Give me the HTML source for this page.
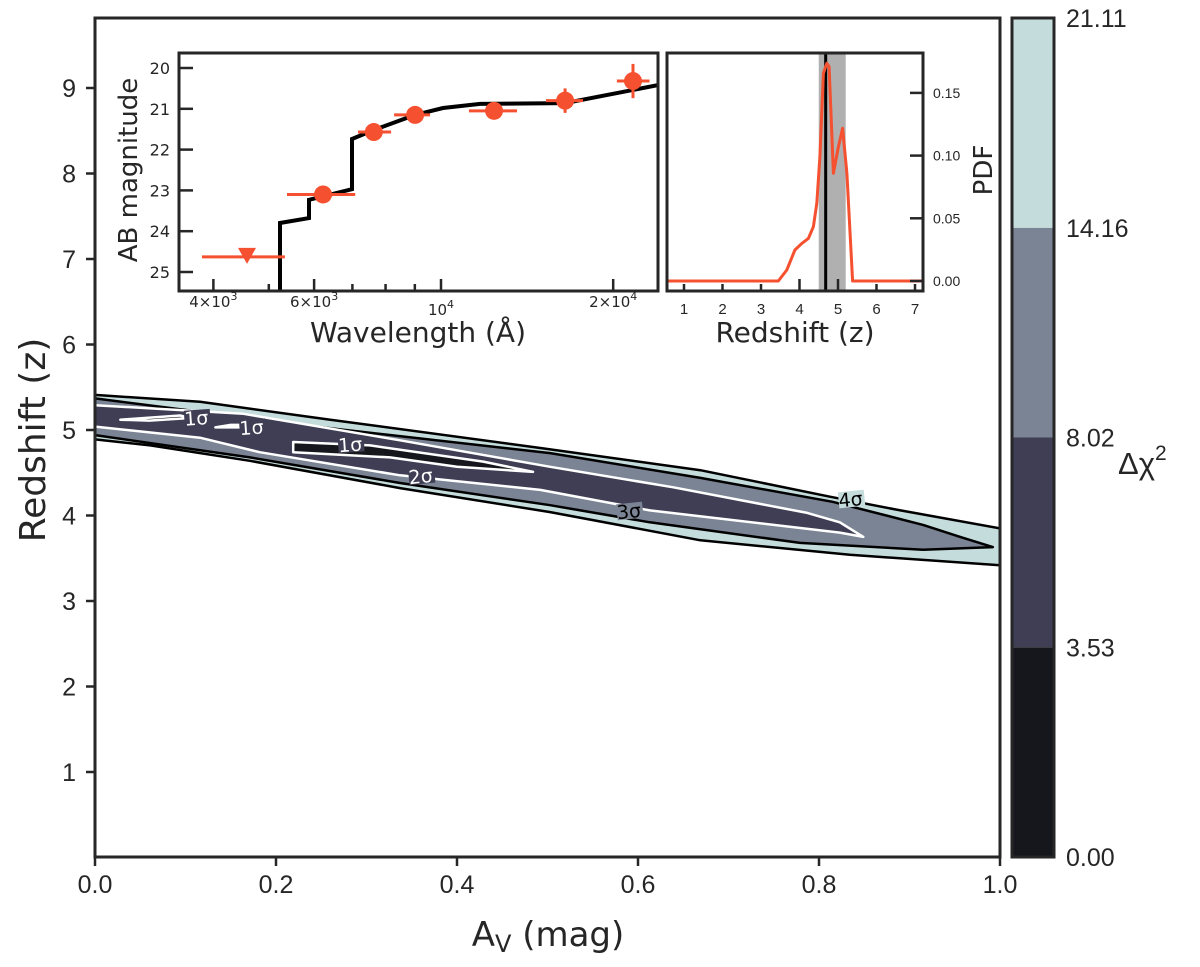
<!DOCTYPE html>
<html><head><meta charset="utf-8"><style>
html,body{margin:0;padding:0;background:#fff;}
svg{display:block;}
.tk{font-family:"Liberation Sans",Arial,sans-serif;fill:#262626;}
.lb{font-family:"DejaVu Sans","Liberation Sans",sans-serif;fill:#262626;}
</style></head><body>
<svg id="fig" width="1200" height="967" viewBox="0 0 1200 967" xmlns="http://www.w3.org/2000/svg">
<defs><clipPath id="mainclip"><rect x="95" y="18" width="905" height="839"/></clipPath>
<clipPath id="pdfclip"><rect x="667" y="53" width="256" height="238"/></clipPath>
<clipPath id="sedclip"><rect x="179" y="53" width="479" height="238"/></clipPath></defs>
<g id="main"></g>
<g id="cbar"></g>
<g id="sed"></g>
<g id="pdf"></g>
</svg>
<script>
// ---- main contour data (A_V, z) ----
const mainXTicks=[0,0.2,0.4,0.6,0.8,1.0];
const mainXTickLabels=["0.0","0.2","0.4","0.6","0.8","1.0"];
const mainYTicks=[1,2,3,4,5,6,7,8,9];
const l1Top=[[0,5.41],[0.116,5.33],[0.26,5.12],[0.492,4.79],[0.669,4.53],[0.812,4.22],[0.89,4.06],[1.01,3.83]];
const l1Bot=[[0,4.89],[0.061,4.82],[0.171,4.64],[0.337,4.32],[0.503,4.04],[0.669,3.71],[0.834,3.54],[1.01,3.41]];
const l2Top=[[0,5.37],[0.26,5.02],[0.503,4.73],[0.669,4.44],[0.815,4.16],[0.915,3.89],[0.956,3.75],[0.992,3.63]];
const l2Bot=[[0,4.94],[0.171,4.68],[0.337,4.38],[0.503,4.12],[0.613,3.92],[0.779,3.68],[0.915,3.6],[0.992,3.63]];
const l3Top=[[0,5.29],[0.164,5.19],[0.337,4.88],[0.503,4.57],[0.639,4.33],[0.787,4.03],[0.823,3.92],[0.849,3.75]];
const l3Bot=[[0,5.04],[0.116,4.91],[0.182,4.74],[0.337,4.47],[0.492,4.3],[0.613,4.06],[0.823,3.8],[0.849,3.75]];
const l4Core=[[0.219,4.86],[0.304,4.82],[0.429,4.63],[0.484,4.51],[0.4,4.57],[0.326,4.68],[0.219,4.74]];
const l4Blob1=[[0.028,5.12],[0.094,5.17],[0.105,5.14],[0.06,5.11]];
const l4Blob2=[[0.133,5.03],[0.15,5.06],[0.175,5.06],[0.175,5.03]];
const sigmaLabels=[["1σ",0.112,5.13,"#fff",-4,1],["1σ",0.173,5.02,"#fff",-4,1],["1σ",0.282,4.82,"#fff",-4,1],["2σ",0.36,4.45,"#fff",-6,1],["3σ",0.59,4.04,"#000",-6,2],["4σ",0.835,4.18,"#000",-6,3]];
// colorbar
const cbLevels=[0,3.53,8.02,14.16,21.11];
const cbColors=["#16161d","#3f3e55","#7b8494","#c5dcdc"];
// SED inset
const sedYTicks=[20,21,22,23,24,25];
const sedPoints=[[6220,5380,7080,23.1,0.05],[7630,7160,8180,21.57,0.05],[9010,8280,9570,21.15,0.05],[12380,11190,13580,21.05,0.05],[16480,15260,17710,20.8,0.3],[21660,20300,23150,20.32,0.42]];
const sedLimit=[4580,3820,5335,24.63];
const modelLam=[5230,5230,5877,5877,6990,6990,7630,9010,10080,11700,16480,23950];
const modelMag=[26,23.8,23.68,23.23,22.97,21.74,21.52,21.15,20.98,20.88,20.86,20.42];
// PDF inset
const pdfZ=[0.5,3.45,3.67,3.88,4.06,4.23,4.36,4.45,4.53,4.62,4.71,4.77,4.88,5.01,5.12,5.23,5.38,7.3];
const pdfV=[0,0,0.0088,0.0247,0.030,0.034,0.0433,0.062,0.099,0.1656,0.1736,0.171,0.0859,0.107,0.1218,0.0859,0,0];
const pdfBand=[4.5,5.2];
const pdfBest=4.68;
const pdfYTicks=[0,0.05,0.10,0.15];
const pdfYLabels=["0.00","0.05","0.10","0.15"];
const pdfXTicks=[1,2,3,4,5,6,7];

const NS="http://www.w3.org/2000/svg";
function mk(parent,tag,attrs,txt){const e=document.createElementNS(NS,tag);for(const k in attrs)e.setAttribute(k,attrs[k]);if(txt!==undefined)e.textContent=txt;parent.appendChild(e);return e;}
// main axes
const mx=a=>95+a*905, my=z=>857.5-z*85.5;
const M=document.getElementById('main');
const cg=mk(M,'g',{'clip-path':'url(#mainclip)'});
function poly(pts,fill,stroke,sw,name){const d=pts.map((p,i)=>(i?'L':'M')+mx(p[0]).toFixed(1)+','+my(p[1]).toFixed(1)).join('')+'Z';
 const e=mk(cg,'path',{d:d,fill:fill,stroke:stroke,'stroke-width':sw,'stroke-linejoin':'round'});
 
 return e;}
const band=(t,b)=>t.concat(b.slice().reverse());
poly(band(l1Top,l1Bot),cbColors[3],'#000',2.5,'contour-level-4');
poly(band(l2Top,l2Bot),cbColors[2],'#000',2.5,'contour-level-3');
poly(band(l3Top,l3Bot),cbColors[1],'#fff',2.5,'contour-level-2');
poly(l4Core,cbColors[0],'#fff',2.5,'contour-level-1');
poly(l4Blob1,cbColors[0],'#fff',2.5,'contour-level-1-blob');
poly(l4Blob2,cbColors[0],'#fff',2.5,'contour-level-1-blob');
sigmaLabels.forEach(s=>{const x=mx(s[1]),y=my(s[2]);
 mk(cg,'rect',{x:x-12,y:y-9,width:26,height:16,fill:cbColors[s[5]],transform:`rotate(${s[4]} ${x} ${y})`});
 const t=mk(cg,'text',{x:x,y:y+6,'font-size':19,fill:s[3],'text-anchor':'middle','font-family':'"DejaVu Sans",sans-serif',transform:`rotate(${s[4]} ${x} ${y})`},s[0]);
 
 });
mk(M,'rect',{x:95,y:18,width:905,height:839,fill:'none',stroke:'#262626','stroke-width':3});
mainXTicks.forEach((v,i)=>{mk(M,'line',{x1:mx(v),x2:mx(v),y1:857,y2:866,stroke:'#262626','stroke-width':2.5});
 const t=mk(M,'text',{x:mx(v),y:893,'font-size':25,'text-anchor':'middle',class:'tk'},mainXTickLabels[i]);
 
 });
mainYTicks.forEach(v=>{mk(M,'line',{x1:86,x2:95,y1:my(v),y2:my(v),stroke:'#262626','stroke-width':2.5});
 const t=mk(M,'text',{x:76,y:my(v)+9,'font-size':25,'text-anchor':'end',class:'tk'},String(v));
 
 });
let t=mk(M,'text',{x:548,y:946,'font-size':34,'text-anchor':'middle',class:'lb'});
t.innerHTML='A<tspan font-size="24" dy="6">V</tspan><tspan dy="-6"> (mag)</tspan>';


t=mk(M,'text',{x:45,y:440,'font-size':36,'text-anchor':'middle',class:'lb',transform:'rotate(-90 45 440)'},'Redshift (z)');


// colorbar (uniform spacing per level index)
const C=document.getElementById('cbar');
const cy=i=>857-i*(839/(cbLevels.length-1));
for(let i=0;i<4;i++){const r=mk(C,'rect',{x:1012,y:cy(i+1),width:42,height:cy(i)-cy(i+1),fill:cbColors[i]});
 
 }
mk(C,'rect',{x:1012,y:18,width:42,height:839,fill:'none',stroke:'#262626','stroke-width':3});
cbLevels.forEach((v,i)=>{const tt=mk(C,'text',{x:1066,y:cy(i)+9,'font-size':25,class:'tk'},v.toFixed(2));
 
 });
t=mk(C,'text',{x:1118,y:474,'font-size':31,class:'tk'});
t.innerHTML='Δχ<tspan font-size="21" dy="-14">2</tspan>';


// SED inset
const S=document.getElementById('sed');
const sx=l=>441+572*Math.log10(l/1e4), sy=m=>68+(m-20)*40.8;
mk(S,'rect',{x:179,y:53,width:479,height:238,fill:'#fff'});
const sc=mk(S,'g',{'clip-path':'url(#sedclip)'});
let d=modelLam.map((l,i)=>(i?'L':'M')+sx(l).toFixed(1)+','+sy(modelMag[i]).toFixed(1)).join('');
t=mk(sc,'path',{d:d,fill:'none',stroke:'#000','stroke-width':4});


const OR='#f5502f';
sedPoints.forEach(p=>{const g=mk(sc,'g',{});
 
 
 mk(g,'line',{x1:sx(p[1]),x2:sx(p[2]),y1:sy(p[3]),y2:sy(p[3]),stroke:OR,'stroke-width':3});
 mk(g,'line',{x1:sx(p[0]),x2:sx(p[0]),y1:sy(p[3]-p[4]),y2:sy(p[3]+p[4]),stroke:OR,'stroke-width':3});
 mk(g,'circle',{cx:sx(p[0]),cy:sy(p[3]),r:9,fill:OR});});
{const g=mk(sc,'g',{});
 
 
 const x=sx(sedLimit[0]),y=sy(sedLimit[3]);
 mk(g,'line',{x1:sx(sedLimit[1]),x2:sx(sedLimit[2]),y1:y,y2:y,stroke:OR,'stroke-width':3});
 mk(g,'path',{d:`M${x-9},${y-9}L${x+9},${y-9}L${x},${y+7}Z`,fill:OR});}
mk(S,'rect',{x:179,y:53,width:479,height:238,fill:'none',stroke:'#262626','stroke-width':3});
sedYTicks.forEach(v=>{mk(S,'line',{x1:179,x2:193,y1:sy(v),y2:sy(v),stroke:'#262626','stroke-width':2.5});
 const tt=mk(S,'text',{x:170,y:sy(v)+6,'font-size':16,'text-anchor':'end',class:'lb'},String(v));
 
 });
[4000,5000,6000,7000,8000,9000,10000,20000].forEach(l=>{const big=(l==4000||l==6000||l==10000||l==20000);
 mk(S,'line',{x1:sx(l),x2:sx(l),y1:291,y2:big?279:284,stroke:'#262626','stroke-width':2.5});});
[[4000,'4×10','3'],[6000,'6×10','3'],[10000,'10','4'],[20000,'2×10','4']].forEach((a,i)=>{
 const tt=mk(S,'text',{x:sx(a[0]),y:i==2?315:307,'font-size':15,'text-anchor':'middle',class:'lb'});
 tt.innerHTML=a[1]+'<tspan font-size="11" dy="-7">'+a[2]+'</tspan>';
 
 });
t=mk(S,'text',{x:418,y:342,'font-size':28,'text-anchor':'middle',class:'lb'},'Wavelength (Å)');


t=mk(S,'text',{x:137,y:170,'font-size':26,'text-anchor':'middle',class:'lb',transform:'rotate(-90 137 170)'},'AB magnitude');


// PDF inset
const P=document.getElementById('pdf');
const px=z=>684+(z-1)*38.5, py=v=>281-v/0.05*62.7;
mk(P,'rect',{x:667,y:53,width:256,height:238,fill:'#fff'});
const pc=mk(P,'g',{'clip-path':'url(#pdfclip)'});
t=mk(pc,'rect',{x:px(pdfBand[0]),y:53,width:px(pdfBand[1])-px(pdfBand[0]),height:238,fill:'#b0b0b0'});


t=mk(pc,'line',{x1:px(pdfBest),x2:px(pdfBest),y1:53,y2:291,stroke:'#000','stroke-width':3});


d=pdfZ.map((z,i)=>(i?'L':'M')+px(z).toFixed(1)+','+py(pdfV[i]).toFixed(1)).join('');
t=mk(pc,'path',{d:d,fill:'none',stroke:OR,'stroke-width':3,'stroke-linejoin':'round'});


mk(P,'rect',{x:667,y:53,width:256,height:238,fill:'none',stroke:'#262626','stroke-width':3});
pdfYTicks.forEach((v,i)=>{mk(P,'line',{x1:910,x2:923,y1:py(v),y2:py(v),stroke:'#262626','stroke-width':2.5});
 const tt=mk(P,'text',{x:933,y:py(v)+5,'font-size':14,class:'tk'},pdfYLabels[i]);
 
 });
pdfXTicks.forEach(v=>{mk(P,'line',{x1:px(v),x2:px(v),y1:291,y2:v==4||v==5?279:284,stroke:'#262626','stroke-width':2.5});
 const tt=mk(P,'text',{x:px(v),y:314,'font-size':15,'text-anchor':'middle',class:'tk'},String(v));
 
 });
t=mk(P,'text',{x:795,y:342,'font-size':28,'text-anchor':'middle',class:'lb'},'Redshift (z)');


t=mk(P,'text',{x:992,y:170,'font-size':26,'text-anchor':'middle',class:'lb',transform:'rotate(-90 992 170)'},'PDF');


</script>
</body></html>
